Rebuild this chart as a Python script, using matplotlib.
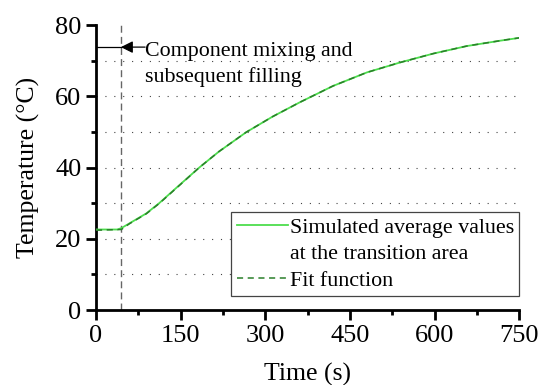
import matplotlib
matplotlib.use("Agg")
import matplotlib.pyplot as plt
from matplotlib.lines import Line2D
from matplotlib.ticker import MultipleLocator

plt.rcParams['font.family'] = ['Liberation Serif', 'DejaVu Serif']

# Data
time_sim = [0, 38, 45, 59, 89, 112, 148, 183, 218, 266, 313, 361, 420, 480, 539, 598, 657, 716, 750]
temp_sim = [22.6, 22.6, 23.0, 24.3, 27.1, 30.0, 35.1, 40.0, 44.5, 49.9, 54.3, 58.3, 62.9, 66.7, 69.5, 72.0, 74.1, 75.6, 76.4]
time_fit = [0, 45, 59, 89, 112, 148, 183, 218, 266, 313, 361, 420, 480, 539, 598, 657, 716, 750]
temp_fit = [22.4, 22.6, 24.2, 27.0, 29.9, 35.0, 40.0, 44.5, 49.9, 54.3, 58.3, 62.9, 66.7, 69.5, 72.0, 74.1, 75.6, 76.4]
event_time = 44
event_temp = 73.8
event_text = "Component mixing and\nsubsequent filling"
text_time = 87
sim_label = ["Simulated average values", "at the transition area"]
fit_label = "Fit function"
xticks = [0, 150, 300, 450, 600, 750]
yticks = [0, 20, 40, 60, 80]
grid_levels = [10, 20, 30, 40, 50, 60, 70]

fig = plt.figure(figsize=(5.4, 3.85), dpi=100)
ax = fig.add_axes([0.1778, 0.1948, 0.9617 - 0.1778, 0.935 - 0.1948])

for g in grid_levels:
    ax.axhline(g, color='#444444', lw=0.8, linestyle=(0, (1, 7)), zorder=1)

ax.axvline(event_time, color='#666666', lw=1.0, linestyle=(0, (5, 3)), zorder=1)

sim_line, = ax.plot(time_sim, temp_sim, color='#4ddd4d', lw=1.3, zorder=3)
fit_line, = ax.plot(time_fit, temp_fit, color='#2a7f2a', lw=1.1,
                    linestyle=(0, (4, 3)), zorder=4)

ax.plot([0, event_time], [event_temp, event_temp], color='black', lw=0.9, zorder=2)
ax.annotate('', xy=(event_time, event_temp), xytext=(text_time, event_temp),
            arrowprops=dict(arrowstyle='-|>', color='black', lw=0.9, mutation_scale=18,
                            shrinkA=0, shrinkB=0))
ax.text(text_time, event_temp + 1.4, event_text, fontsize=15.8, va='top', ha='left',
        linespacing=1.4)

ax.set_xlim(0, 750)
ax.set_ylim(0, 80)
ax.set_xticks(xticks)
ax.set_yticks(yticks)
ax.xaxis.set_minor_locator(MultipleLocator(75))
ax.yaxis.set_minor_locator(MultipleLocator(10))
ax.spines['top'].set_visible(False)
ax.spines['right'].set_visible(False)
for s in ['left', 'bottom']:
    ax.spines[s].set_linewidth(2.0)
ax.tick_params(which='major', direction='out', length=7, width=2.0, labelsize=19, pad=3.5)
ax.tick_params(which='minor', direction='out', length=3.5, width=2.0)

ax.set_xlabel('Time (s)', fontsize=18.5, labelpad=11.5)
ax.set_ylabel('Temperature (°C)', fontsize=18.5, labelpad=11)

blank = Line2D([], [], color='none')
leg = ax.legend([sim_line, blank, fit_line], [sim_label[0], sim_label[1], fit_label],
                loc='lower right', bbox_to_anchor=(1.0, 0.049), borderaxespad=0,
                fontsize=15.8, frameon=True, fancybox=False, framealpha=1,
                edgecolor='#444444', handlelength=2.35, handletextpad=0.05,
                borderpad=0.25, labelspacing=0.28)
leg.get_frame().set_linewidth(0.9)

fig.savefig('out.png', dpi=100)
